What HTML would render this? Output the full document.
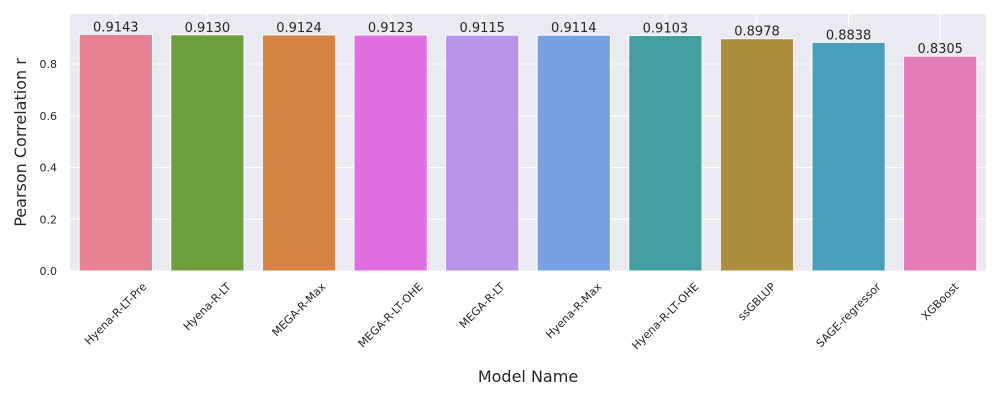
<!DOCTYPE html>
<html><head><meta charset="utf-8"><style>
html,body{margin:0;padding:0;background:#fff;}
svg{display:block;font-family:"DejaVu Sans","Liberation Sans",sans-serif;}
</style></head><body>
<svg id="chart" width="1000" height="400"></svg>
<script>
const categories=["Hyena-R-LT-Pre","Hyena-R-LT","MEGA-R-Max","MEGA-R-LT-OHE","MEGA-R-LT","Hyena-R-Max","Hyena-R-LT-OHE","ssGBLUP","SAGE-regressor","XGBoost"];
const values=[0.9143,0.9130,0.9124,0.9123,0.9115,0.9114,0.9103,0.8978,0.8838,0.8305];
const valueLabels=["0.9143","0.9130","0.9124","0.9123","0.9115","0.9114","0.9103","0.8978","0.8838","0.8305"];
const colors=["#e88190","#6f9e3f","#d58347","#e070e0","#b794e8","#76a1e3","#459ea1","#ad8d40","#4aa0bc","#e37bb8"];
const yTicks=[0,0.2,0.4,0.6,0.8];
const yTickLabels=["0.0","0.2","0.4","0.6","0.8"];

const NS="http://www.w3.org/2000/svg";
const svg=document.getElementById('chart');
const L=70,R=986,T=14,B=271,YMAX=(271-14)/258.75;
const y=v=>B-(v/YMAX)*(B-T);
const slot=(R-L)/categories.length;
const xc=i=>L+slot*(i+0.5);
function mk(tag,attrs,text){const e=document.createElementNS(NS,tag);for(const k in attrs)e.setAttribute(k,attrs[k]);if(text!==undefined)e.textContent=text;svg.appendChild(e);return e;}

const bg=mk('rect',{x:L,y:T,width:R-L,height:B-T,fill:'#eaeaf2'});


yTicks.forEach((t,i)=>{
  const g=mk('line',{x1:L,x2:R,y1:y(t),y2:y(t),stroke:'#fff','stroke-width':1});
  
  
  const tl=mk('text',{x:L-13,y:y(t)+4,'text-anchor':'end','font-size':11,fill:'#262626'},yTickLabels[i]);
  
  
});
categories.forEach((c,i)=>{
  const gl=mk('line',{x1:xc(i),x2:xc(i),y1:T,y2:B,stroke:'#fff','stroke-width':1});
  
  
});
categories.forEach((c,i)=>{
  const w=slot*0.8;
  const b=mk('rect',{x:xc(i)-w/2,y:y(values[i]),width:w,height:B-y(values[i]),fill:colors[i],stroke:'#fff','stroke-width':1});
  
  
  const vl=mk('text',{x:xc(i),y:y(values[i])-3,'text-anchor':'middle','font-size':13,fill:'#262626'},valueLabels[i]);
  
  
  const xl=mk('text',{x:xc(i),y:0,'text-anchor':'middle','dominant-baseline':'central','font-size':11,fill:'#262626'},c);
  
  
  const len=xl.getComputedTextLength();
  const h=(len+11)*Math.SQRT1_2;
  const cy=B+10+h/2;
  xl.setAttribute('y',cy);
  xl.setAttribute('transform',`rotate(-45 ${xc(i)} ${cy})`);
});
const xt=mk('text',{x:(L+R)/2,y:382,'text-anchor':'middle','font-size':16,fill:'#262626'},'Model Name');


const yt=mk('text',{x:26,y:(T+B)/2,'text-anchor':'middle','font-size':16,fill:'#262626',transform:`rotate(-90 26 ${(T+B)/2})`},'Pearson Correlation r');


</script>
</body></html>
